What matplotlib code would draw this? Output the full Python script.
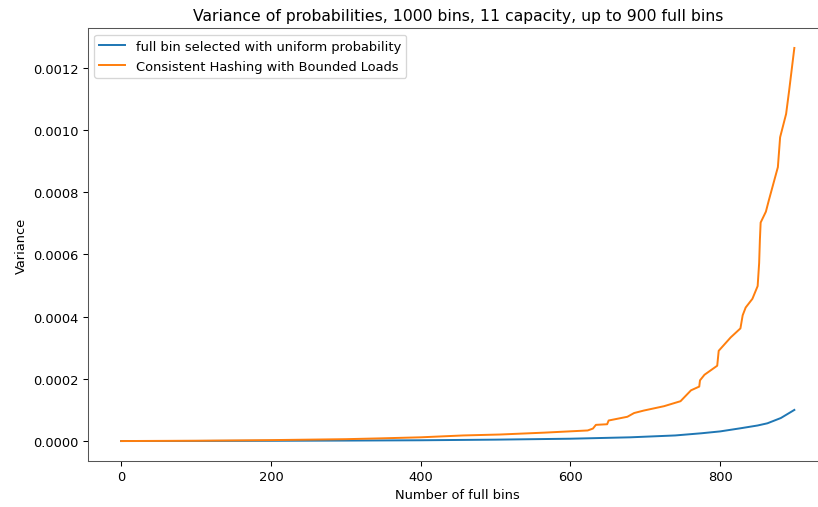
import numpy as np
import matplotlib.pyplot as plt

# values
uniform_x = [0, 100, 200, 300, 400, 500, 600, 680, 740, 775, 800, 827, 850, 863, 881, 899]
uniform_var = [0.0, 0.3e-6, 0.8e-6, 1.5e-6, 2.5e-6, 4.5e-6, 7.5e-6, 1.2e-5, 1.8e-5,
               2.5e-5, 3.1e-5, 4.1e-5, 5.0e-5, 5.7e-5, 7.4e-5, 1.0e-4]

chbl_x = [0, 100, 200, 300, 346, 400, 457, 506, 565, 623, 630, 634, 649, 651, 676, 685,
          698, 725, 747, 761, 772, 773, 779, 796, 798, 814, 827, 830, 834, 843, 850,
          852, 853, 854, 861, 865, 877, 880, 888, 892, 899]
chbl_var = [0.0, 1.0e-6, 3.0e-6, 6.0e-6, 8.6e-6, 1.2e-5, 1.8e-5, 2.1e-5, 2.7e-5, 3.4e-5,
            4.0e-5, 5.2e-5, 5.4e-5, 6.6e-5, 7.8e-5, 9.0e-5, 9.8e-5, 1.12e-4, 1.28e-4,
            1.63e-4, 1.75e-4, 1.95e-4, 2.13e-4, 2.42e-4, 2.90e-4, 3.33e-4, 3.62e-4,
            4.04e-4, 4.29e-4, 4.57e-4, 4.98e-4, 5.72e-4, 6.47e-4, 7.02e-4, 7.37e-4,
            7.74e-4, 8.80e-4, 9.76e-4, 1.051e-3, 1.125e-3, 1.263e-3]

DPI = 94
fig = plt.figure(figsize=(818 / DPI, 508 / DPI), dpi=DPI)
ax = fig.add_axes([87.5 / 818, 46.3 / 508, 740.5 / 818, 432.4 / 508])

ax.plot(uniform_x, uniform_var, label="full bin selected with uniform probability")
ax.plot(chbl_x, chbl_var, label="Consistent Hashing with Bounded Loads")

ax.set_title("Variance of probabilities, 1000 bins, 11 capacity, up to 900 full bins")
ax.set_xlabel("Number of full bins")
ax.set_ylabel("Variance")
ax.set_yticks([0, 0.0002, 0.0004, 0.0006, 0.0008, 0.0010, 0.0012])
ax.set_yticklabels(["0.0000", "0.0002", "0.0004", "0.0006", "0.0008", "0.0010", "0.0012"])
for s in ax.spines.values():
    s.set_color("#555555")
ax.legend(loc="upper left")

fig.savefig("out.png", dpi=DPI)
